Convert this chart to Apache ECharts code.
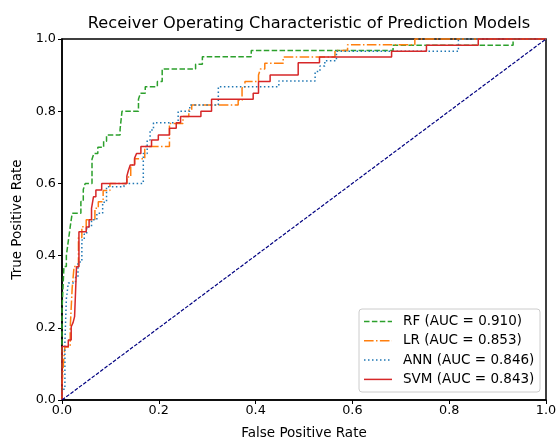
<!DOCTYPE html>
<html>
<head>
<meta charset="utf-8">
<script src="https://cdn.jsdelivr.net/npm/echarts@6/dist/echarts.min.js"></script>
<style>html,body{margin:0;padding:0;background:#fff}#c{width:556px;height:438px}</style>
</head>
<body>
<div id="c"></div>
<script>
const xTicks = [0, 0.2, 0.4, 0.6, 0.8, 1.0];
const yTicks = [0, 0.2, 0.4, 0.6, 0.8, 1.0];
const modelNames = ['RF (AUC = 0.910)', 'LR (AUC = 0.853)', 'ANN (AUC = 0.846)', 'SVM (AUC = 0.843)'];

const rfFpr = [0,0,0.004,0.004,0.009,0.009,0.013,0.013,0.017,0.017,0.021,0.021,0.039,0.039,0.044,0.044,0.048,0.048,0.062,0.062,0.066,0.066,0.074,0.074,0.086,0.086,0.092,0.092,0.12,0.12,0.124,0.124,0.158,0.158,0.162,0.162,0.172,0.172,0.197,0.197,0.207,0.207,0.276,0.276,0.29,0.29,0.391,0.391,0.684,0.684,0.932,0.932,1];
const rfTpr = [0,0.25,0.25,0.37,0.37,0.40,0.40,0.44,0.44,0.48,0.48,0.517,0.517,0.55,0.55,0.583,0.583,0.60,0.60,0.667,0.667,0.683,0.683,0.70,0.70,0.717,0.717,0.734,0.734,0.75,0.75,0.80,0.80,0.833,0.833,0.85,0.85,0.868,0.868,0.882,0.882,0.917,0.917,0.93,0.93,0.951,0.951,0.968,0.968,0.983,0.983,1,1];

const lrFpr = [0,0,0.004,0.004,0.006,0.006,0.017,0.017,0.021,0.021,0.025,0.025,0.034,0.034,0.041,0.041,0.05,0.05,0.068,0.068,0.075,0.075,0.085,0.085,0.099,0.099,0.134,0.134,0.142,0.142,0.150,0.150,0.171,0.171,0.222,0.222,0.25,0.25,0.262,0.262,0.268,0.268,0.364,0.364,0.372,0.372,0.378,0.378,0.406,0.406,0.41,0.41,0.419,0.419,0.457,0.457,0.564,0.564,0.59,0.59,0.729,0.729,1];
const lrTpr = [0,0.04,0.04,0.12,0.12,0.147,0.147,0.20,0.20,0.31,0.31,0.37,0.37,0.45,0.45,0.48,0.48,0.499,0.499,0.531,0.531,0.549,0.549,0.58,0.58,0.60,0.60,0.618,0.618,0.651,0.651,0.668,0.668,0.702,0.702,0.766,0.766,0.785,0.785,0.803,0.803,0.817,0.817,0.83,0.83,0.865,0.865,0.882,0.882,0.90,0.90,0.917,0.917,0.933,0.933,0.95,0.95,0.968,0.968,0.984,0.984,1,1];

const annFpr = [0,0,0.006,0.006,0.009,0.009,0.013,0.013,0.028,0.028,0.033,0.033,0.041,0.041,0.046,0.046,0.051,0.051,0.061,0.061,0.072,0.072,0.084,0.084,0.092,0.092,0.128,0.128,0.168,0.168,0.176,0.176,0.182,0.182,0.189,0.189,0.24,0.24,0.264,0.264,0.323,0.323,0.448,0.448,0.523,0.523,0.533,0.533,0.543,0.543,0.567,0.567,0.819,0.819,1];
const annTpr = [0,0.03,0.03,0.16,0.16,0.28,0.28,0.324,0.324,0.34,0.34,0.382,0.382,0.443,0.443,0.46,0.46,0.48,0.48,0.499,0.499,0.517,0.517,0.548,0.548,0.591,0.591,0.60,0.60,0.683,0.683,0.72,0.72,0.748,0.748,0.768,0.768,0.80,0.80,0.817,0.817,0.868,0.868,0.884,0.884,0.91,0.91,0.925,0.925,0.94,0.94,0.966,0.966,1,1];

const svmFpr = [0,0,0.013,0.013,0.019,0.019,0.023,0.023,0.026,0.026,0.030,0.030,0.035,0.035,0.050,0.050,0.056,0.056,0.061,0.061,0.065,0.065,0.070,0.070,0.082,0.082,0.134,0.134,0.137,0.137,0.141,0.141,0.150,0.150,0.154,0.154,0.163,0.163,0.185,0.185,0.199,0.199,0.222,0.222,0.236,0.236,0.245,0.245,0.287,0.287,0.309,0.309,0.395,0.395,0.406,0.406,0.43,0.43,0.488,0.488,0.532,0.532,0.681,0.681,0.753,0.753,0.86,0.86,1];
const svmTpr = [0,0.148,0.148,0.166,0.166,0.203,0.203,0.215,0.215,0.231,0.231,0.369,0.369,0.466,0.466,0.479,0.479,0.499,0.499,0.531,0.531,0.563,0.563,0.582,0.582,0.60,0.60,0.62,0.62,0.635,0.635,0.651,0.651,0.67,0.67,0.683,0.683,0.702,0.702,0.72,0.72,0.734,0.734,0.753,0.753,0.768,0.768,0.785,0.785,0.80,0.80,0.833,0.833,0.85,0.85,0.882,0.882,0.90,0.90,0.934,0.934,0.95,0.95,0.966,0.966,0.983,0.983,1,1];

const diagX = [0, 1];
const diagY = [0, 1];

const zip = (a, b) => a.map((v, i) => [v, b[i]]);
const fmt = v => v.toFixed(1);
const FONT = 'DejaVu Sans';

const styles = [
  {color: '#2ca02c', dash: [5.5, 2.4]},
  {color: '#ff7f0e', dash: [9.6, 2.4, 1.5, 2.4]},
  {color: '#1f77b4', dash: [1.5, 2.5]},
  {color: '#d62728', dash: null}
];
const fprs = [rfFpr, lrFpr, annFpr, svmFpr];
const tprs = [rfTpr, lrTpr, annTpr, svmTpr];

const chart = echarts.init(document.getElementById('c'), null, {renderer: 'canvas'});
const series = modelNames.map((name, i) => ({
  name, type: 'line', data: zip(fprs[i], tprs[i]), showSymbol: false, symbol: 'none',
  lineStyle: {color: styles[i].color, width: 1.5, type: styles[i].dash || 'solid'},
  itemStyle: {color: styles[i].color}, animation: false, clip: false
}));
series.push({name: 'diag', type: 'line', data: zip(diagX, diagY), showSymbol: false, symbol: 'none',
  lineStyle: {color: '#000080', width: 1.2, type: [3.7, 1.6]}, animation: false, silent: true});

// legend drawn as graphic (box, line samples, real text)
const LX = 359, LY = 309, LW = 181, LH = 83, rowY0 = 321.5, rowH = 19.3;
const legendEls = [{
  type: 'rect', shape: {x: LX, y: LY, width: LW, height: LH, r: 3},
  style: {fill: 'rgba(255,255,255,0.8)', stroke: '#ccc', lineWidth: 1}, z: 100
}];
modelNames.forEach((name, i) => {
  const y = rowY0 + i * rowH;
  legendEls.push({
    type: 'line', shape: {x1: 364, y1: y, x2: 392, y2: y},
    style: {stroke: styles[i].color, lineWidth: 1.5, lineDash: styles[i].dash}, z: 101
  });
  legendEls.push({
    type: 'text', x: 403, y: y,
    style: {text: name, fill: '#000', font: '13.5px "DejaVu Sans"', textVerticalAlign: 'middle', verticalAlign: 'middle'}, z: 101
  });
});

chart.setOption({
  animation: false,
  backgroundColor: '#fff',
  title: {
    text: 'Receiver Operating Characteristic of Prediction Models',
    left: 304, top: 11, textAlign: 'center',
    textStyle: {fontFamily: FONT, fontSize: 16.2, fontWeight: 'normal', color: '#000'}
  },
  grid: {left: 62, top: 39, width: 484, height: 361, show: true, borderColor: '#000', borderWidth: 1.5,
    containLabel: false, outerBoundsMode: 'none'},
  xAxis: {
    type: 'value', min: 0, max: 1, interval: 0.2,
    name: 'False Positive Rate', nameLocation: 'middle', nameGap: 26,
    nameTextStyle: {fontFamily: FONT, fontSize: 13.5, color: '#000'},
    axisLine: {show: true, lineStyle: {color: '#000', width: 1.5}},
    axisTick: {show: true, length: 4, lineStyle: {color: '#000', width: 1}},
    axisLabel: {fontFamily: FONT, fontSize: 12.8, color: '#000', margin: 4,
      formatter: v => xTicks.some(t => Math.abs(t - v) < 1e-9) ? fmt(v) : ''},
    splitLine: {show: false}
  },
  yAxis: {
    type: 'value', min: 0, max: 1, interval: 0.2,
    name: 'True Positive Rate', nameLocation: 'middle', nameGap: 38, nameRotate: 90,
    nameTextStyle: {fontFamily: FONT, fontSize: 13.5, color: '#000'},
    axisLine: {show: true, lineStyle: {color: '#000', width: 1.5}},
    axisTick: {show: true, length: 4, lineStyle: {color: '#000', width: 1}},
    axisLabel: {fontFamily: FONT, fontSize: 12.8, color: '#000', margin: 6,
      formatter: v => yTicks.some(t => Math.abs(t - v) < 1e-9) ? fmt(v) : ''},
    splitLine: {show: false}
  },
  series,
  graphic: {elements: legendEls}
});
</script>
</body>
</html>
